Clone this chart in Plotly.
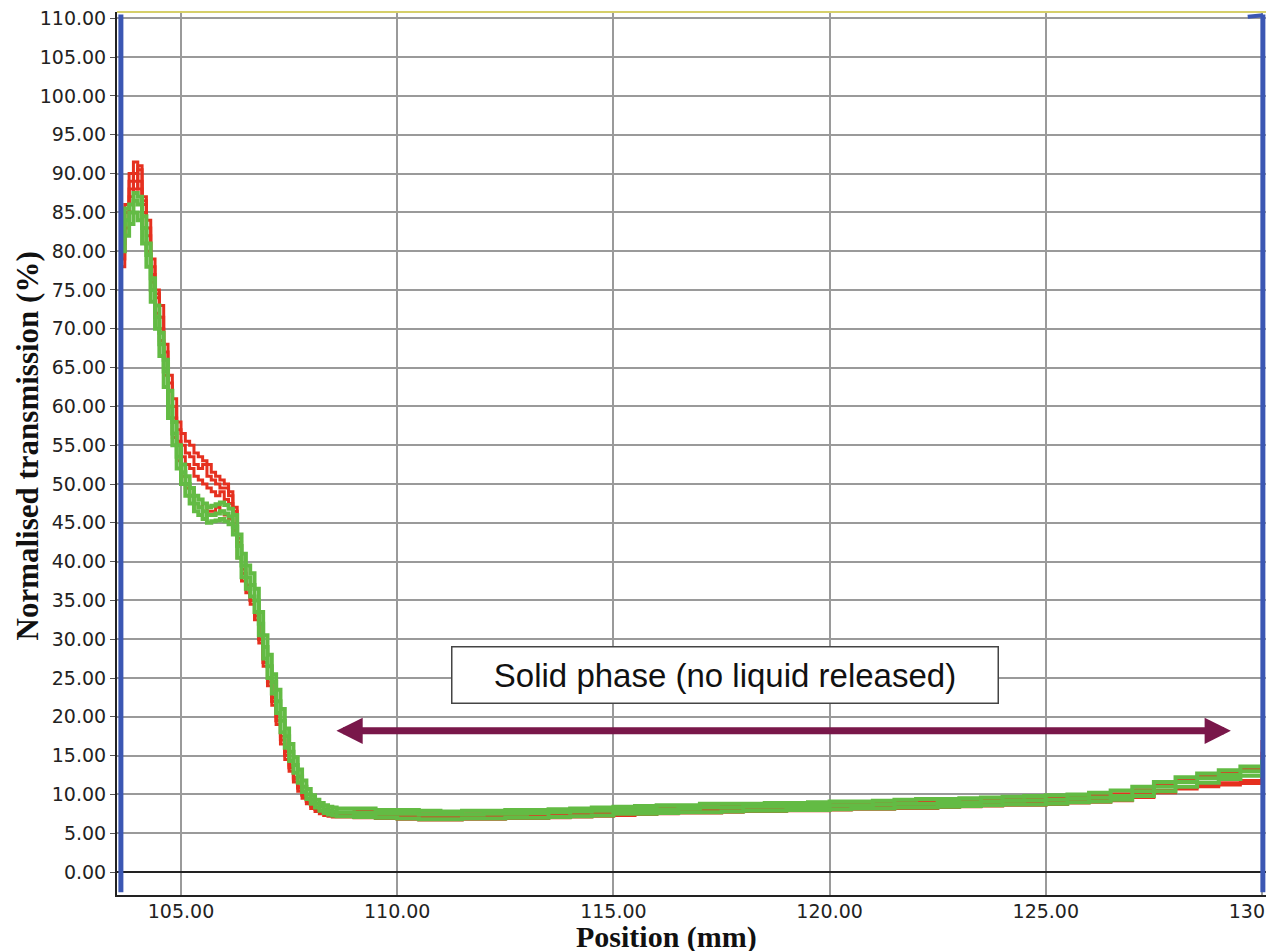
import plotly.graph_objects as go

# ---------------- data ----------------
x_fine = [103.6, 103.7, 103.8, 103.9, 104.0, 104.1, 104.2, 104.3, 104.4, 104.5,
          104.6, 104.7, 104.8, 104.9, 105.0, 105.1, 105.2, 105.3, 105.4, 105.5,
          105.6, 105.7, 105.8, 105.9, 106.0, 106.1, 106.2, 106.3, 106.4, 106.5,
          106.6, 106.7, 106.8, 106.9, 107.0, 107.1, 107.2, 107.3, 107.4, 107.5,
          107.6, 107.7, 107.8, 107.9, 108.0, 108.1, 108.2, 108.3, 108.4, 108.5,
          108.6]
x_coarse = [109.0, 109.5, 110.0, 110.5, 111.0, 111.5, 112.0, 112.5, 113.0, 113.5,
            114.0, 114.5, 115.0, 115.5, 116.0, 116.5, 117.0, 117.5, 118.0, 118.5,
            119.0, 119.5, 120.0, 120.5, 121.0, 121.5, 122.0, 122.5, 123.0, 123.5,
            124.0, 124.5, 125.0, 125.5, 126.0, 126.5, 127.0, 127.5, 128.0, 128.5,
            129.0, 129.5, 130.0]

red1_fine = [79, 84, 90, 88, 91, 86, 84, 79, 75, 73, 68, 64, 61, 58, 56.5, 55.5, 55, 54,
             53.5, 53, 52.5, 51.5, 51, 50.5, 50, 49, 47, 43, 39, 37, 35.5, 33.5, 30.5,
             27.5, 25, 22.5, 20, 17.5, 15.5, 13.8, 12.2, 11, 10, 9.2, 8.6, 8.2, 7.9, 7.7,
             7.6, 7.5, 7.5]
red2_fine = [81, 86, 88, 91.5, 89, 87, 82, 77, 74, 70, 66, 62, 58.5, 55.5, 53.5, 52.5, 52,
             51, 50.5, 50, 49.5, 49, 48.5, 49, 48, 47.5, 46, 42, 38.5, 36.5, 35, 33, 30,
             27, 24.5, 22, 19.5, 17, 15, 13.4, 12, 10.8, 9.9, 9.1, 8.5, 8.1, 7.8, 7.6,
             7.5, 7.4, 7.4]
red3_fine = [78, 83, 87, 89, 88, 85, 80, 76, 72, 68.5, 64, 60, 56, 53, 51, 49.5, 48.5,
             47.5, 47, 47.5, 46.5, 46.5, 47, 46.5, 46, 45.5, 44, 40.5, 37.5, 36, 34.5,
             32.5, 29.5, 26.5, 24, 21.5, 19, 16.5, 14.5, 13, 11.6, 10.4, 9.5, 8.8, 8.2,
             7.8, 7.5, 7.3, 7.2, 7.1, 7.1]
red4_fine = [80, 85, 89, 90, 90.5, 86.5, 83, 78, 74.5, 71.5, 67, 63, 60, 57, 55, 54, 53.5,
             52.5, 52, 52.5, 51, 50.5, 50, 49.5, 49.5, 48.5, 46.5, 42.5, 38.5, 36.5, 35,
             33, 30, 27, 24.5, 22, 19.5, 17, 15, 13.5, 12, 10.9, 9.9, 9.1, 8.5, 8.1, 7.8,
             7.6, 7.5, 7.4, 7.4]
red1_coarse = [7.8, 7.7, 7.6, 7.5, 7.5, 7.5, 7.6, 7.6, 7.7, 7.8, 7.9, 8.0, 8.1, 8.2, 8.3,
               8.3, 8.4, 8.5, 8.5, 8.6, 8.6, 8.7, 8.8, 8.8, 8.9, 9.0, 9.0, 9.1, 9.2, 9.3,
               9.4, 9.5, 9.6, 9.7, 9.9, 10.1, 10.6, 11.2, 11.8, 12.3, 12.7, 13.2, 17.0]
red2_coarse = [7.4, 7.3, 7.2, 7.1, 7.1, 7.2, 7.2, 7.3, 7.3, 7.4, 7.5, 7.6, 7.7, 7.8, 7.9,
               8.0, 8.0, 8.1, 8.2, 8.2, 8.3, 8.3, 8.4, 8.5, 8.5, 8.6, 8.6, 8.7, 8.8, 8.9,
               9.0, 9.1, 9.1, 9.3, 9.4, 9.6, 10.0, 10.5, 10.9, 11.2, 11.5, 11.8, 15.5]
red3_coarse = [7.0, 6.9, 6.8, 6.7, 6.7, 6.8, 6.8, 6.9, 6.9, 7.0, 7.1, 7.2, 7.3, 7.4, 7.5,
               7.6, 7.6, 7.7, 7.8, 7.8, 7.9, 7.9, 8.0, 8.1, 8.1, 8.2, 8.2, 8.3, 8.4, 8.5,
               8.6, 8.6, 8.7, 8.9, 9.0, 9.2, 9.6, 10.2, 10.7, 11.0, 11.2, 11.4, 12.5]

green1_fine = [82, 84, 85, 86.5, 86, 83, 79.5, 75, 71.5, 68, 64.5, 60, 56.5, 53.5, 51.5,
               50, 48.5, 47.5, 47, 46.5, 46, 46, 46.2, 46.5, 46.2, 45.8, 44.5, 42, 39.5,
               38, 37, 35, 32, 29, 26.5, 24.5, 22, 19.5, 17.5, 15.5, 13.8, 12.3, 11, 10,
               9.3, 8.8, 8.4, 8.1, 7.9, 7.8, 7.7]
green2_fine = [83.5, 85.5, 86, 87.5, 87, 84.5, 81, 76.5, 73, 69.5, 66, 62, 58, 55, 52.5,
               51, 49.5, 48.5, 48, 47.5, 47, 47.2, 47.4, 47.6, 47.3, 46.8, 46, 43.5, 41,
               39.5, 38.5, 36.5, 33.5, 30.5, 28, 25.5, 23.5, 21, 18.5, 16.5, 14.8, 13.2,
               11.8, 10.7, 9.9, 9.3, 8.9, 8.6, 8.4, 8.3, 8.2]
green3_fine = [80, 82, 83.5, 85, 84, 81, 78, 73.5, 70, 66.5, 62.5, 58.5, 55, 52, 50, 48.5,
               47.5, 46.5, 46, 45.5, 45, 45.2, 45.3, 45.5, 45.2, 44.8, 43.5, 40.5, 38,
               36.5, 35.5, 33.5, 30.5, 27.5, 25, 23, 20.5, 18, 16, 14.3, 12.8, 11.5, 10.3,
               9.4, 8.8, 8.3, 7.9, 7.6, 7.4, 7.3, 7.2]
green1_coarse = [7.6, 7.5, 7.5, 7.4, 7.4, 7.4, 7.5, 7.5, 7.6, 7.7, 7.8, 7.9, 8.0, 8.0, 8.1,
                 8.2, 8.3, 8.3, 8.4, 8.4, 8.5, 8.5, 8.6, 8.6, 8.7, 8.8, 8.8, 8.9, 9.0, 9.1,
                 9.2, 9.25, 9.3, 9.5, 9.6, 9.8, 10.4, 11.0, 11.6, 12.1, 12.5, 13.0, 13.8]
green2_coarse = [8.2, 8.0, 8.0, 7.9, 7.8, 7.9, 7.9, 8.0, 8.0, 8.1, 8.2, 8.3, 8.4, 8.5, 8.6,
                 8.6, 8.8, 8.8, 8.8, 8.9, 8.9, 9.0, 9.1, 9.1, 9.2, 9.3, 9.4, 9.4, 9.5, 9.6,
                 9.7, 9.8, 9.9, 10.0, 10.2, 10.5, 11.0, 11.6, 12.2, 12.7, 13.1, 13.6, 14.5]
green3_coarse = [7.1, 7.0, 6.9, 6.8, 6.8, 6.9, 6.9, 7.0, 7.0, 7.1, 7.2, 7.3, 7.5, 7.5, 7.6,
                 7.7, 7.7, 7.8, 7.9, 7.9, 8.0, 8.0, 8.1, 8.2, 8.2, 8.3, 8.3, 8.4, 8.5, 8.6,
                 8.7, 8.7, 8.8, 9.0, 9.1, 9.3, 9.8, 10.4, 11.0, 11.5, 12.0, 12.4, 13.2]

cursor_positions = [103.61, 130.02]
y_ticks = [0, 5, 10, 15, 20, 25, 30, 35, 40, 45, 50, 55, 60, 65, 70, 75, 80, 85, 90, 95,
           100, 105, 110]
x_ticks = [105, 110, 115, 120, 125, 130]

annotation_text = "Solid phase (no liquid released)"
x_title = "Position (mm)"
y_title = "Normalised transmission (%)"

# ---------------- figure ----------------
RED = "#e5301f"
GREEN = "#63bb44"
BLUE = "#3b57b3"
MAROON = "#79174a"

fig = go.Figure()
x_all = x_fine + x_coarse
for yf, yc in [(red1_fine, red1_coarse), (red2_fine, red2_coarse), (red3_fine, red3_coarse)]:
    fig.add_trace(go.Scatter(x=x_all, y=yf + yc, mode="lines", line_shape="hv",
                             line=dict(color=RED, width=3), hoverinfo="skip"))
fig.add_trace(go.Scatter(x=x_fine, y=red4_fine, mode="lines", line_shape="hv",
                         line=dict(color=RED, width=3), hoverinfo="skip"))
for yf, yc in [(green1_fine, green1_coarse), (green2_fine, green2_coarse), (green3_fine, green3_coarse)]:
    fig.add_trace(go.Scatter(x=x_all, y=yf + yc, mode="lines", line_shape="hv",
                             line=dict(color=GREEN, width=4), hoverinfo="skip"))

# cursor lines
for cx in cursor_positions:
    fig.add_trace(go.Scatter(x=[cx, cx], y=[-2.6, 110.5], mode="lines",
                             line=dict(color=BLUE, width=5), hoverinfo="skip"))
fig.add_trace(go.Scatter(x=[cursor_positions[1] - 0.35, cursor_positions[1]], y=[110.2, 110.4],
                         mode="lines", line=dict(color=BLUE, width=4), hoverinfo="skip"))

axis_font = dict(family="DejaVu Sans", size=19, color="#222")
fig.update_xaxes(range=[103.52, 130.185], tickvals=x_ticks, tickformat=".2f",
                 showgrid=True, gridcolor="#9a9a9a", gridwidth=2,
                 showline=True, linecolor="#222", linewidth=2, mirror=False,
                 ticks="", tickfont=axis_font, zeroline=False, automargin=False,
                 ticklabeloverflow="allow", ticklabelstandoff=-2)
fig.update_yaxes(range=[-2.96, 110.82], tickvals=y_ticks, tickformat=".2f",
                 showgrid=True, gridcolor="#9a9a9a", gridwidth=2,
                 showline=True, linecolor="#222", linewidth=2,
                 ticks="outside", ticklen=5, tickcolor="#555", tickfont=axis_font,
                 zeroline=True, zerolinecolor="#222", zerolinewidth=2, automargin=False,
                 ticklabeloverflow="allow")

# the page body adds an 8px margin, so the figure is 8px smaller and margins shifted
fig.update_layout(
    width=1266, height=943,
    margin=dict(l=109, r=4, t=4, b=56),
    plot_bgcolor="white", paper_bgcolor="white",
    showlegend=False,
    shapes=[
        dict(type="line", xref="paper", yref="paper", x0=0, x1=1, y0=1, y1=1,
             line=dict(color="#d6cf6a", width=2)),
        dict(type="line", xref="paper", yref="paper", x0=1, x1=1, y0=0, y1=1,
             line=dict(color="#222", width=2)),
    ],
    annotations=[
        dict(x=129.28, y=18.2, ax=108.56, ay=18.2, xref="x", yref="y", axref="x", ayref="y",
             text="", showarrow=True, arrowhead=2, startarrowhead=2, arrowside="end+start",
             arrowwidth=7, arrowsize=0.75, startarrowsize=0.75, arrowcolor=MAROON),
        dict(x=117.57, y=25.35, xref="x", yref="y", text=annotation_text, showarrow=False,
             font=dict(family="Liberation Sans", size=33, color="#111"),
             bgcolor="white", bordercolor="#444", borderwidth=1.5, borderpad=0,
             width=545, height=55, align="center", valign="middle"),
        dict(x=0.477, y=-0.048, xref="paper", yref="paper", text="<b>" + x_title + "</b>",
             showarrow=False, xanchor="center", yanchor="middle",
             font=dict(family="Liberation Serif", size=30, color="#111")),
        dict(x=-0.078, y=0.508, xref="paper", yref="paper", text="<b>" + y_title + "</b>",
             showarrow=False, textangle=-90, xanchor="center", yanchor="middle",
             font=dict(family="Liberation Serif", size=31, color="#111")),
    ],
)

fig.write_html("out.html")
